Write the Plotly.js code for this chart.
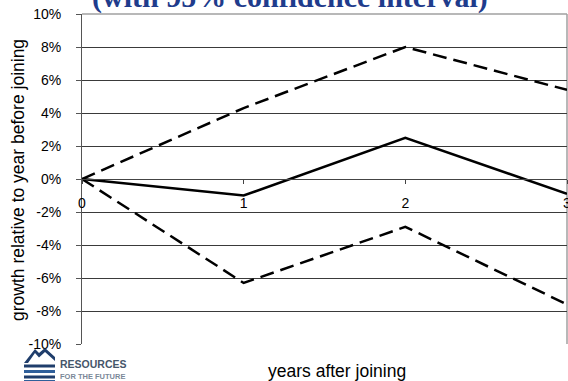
<!DOCTYPE html>
<html>
<head>
<meta charset="utf-8">
<script src="https://cdn.plot.ly/plotly-3.0.1.min.js"></script>
<style>
  html, body { margin: 0; padding: 0; background: #fff; }
  #chart { width: 568px; height: 381px; }
</style>
</head>
<body>
<div id="chart"></div>
<script>
// Years after joining and growth estimates (percent)
const years = [0, 1, 2, 3];
const estimate = [0, -1.0, 2.5, -0.9];
const upperBound = [0, 4.3, 8.0, 5.4];
const lowerBound = [0, -6.3, -2.9, -7.6];
const yTicks = [-10, -8, -6, -4, -2, 0, 2, 4, 6, 8, 10];
const yTickText = yTicks.map(v => v + '%');

// Figure geometry (pixels) for placing notes and the logo
const W = 568, H = 381;
const M = { l: 82, r: 1, t: 14, b: 37 };
const PW = W - M.l - M.r, PH = H - M.t - M.b;
const px = x => (x - M.l) / PW;
const py = y => (H - M.b - y) / PH;

const sans = 'Liberation Sans, Arial, sans-serif';

const traces = [
  { x: years, y: upperBound, mode: 'lines', name: 'upper 95%',
    line: { color: '#000', width: 2.5, dash: '14px,7px' }, hoverinfo: 'x+y' },
  { x: years, y: lowerBound, mode: 'lines', name: 'lower 95%',
    line: { color: '#000', width: 2.5, dash: '14px,7px' }, hoverinfo: 'x+y' },
  { x: years, y: estimate, mode: 'lines', name: 'estimate',
    line: { color: '#000', width: 2.5 }, hoverinfo: 'x+y' }
];

// RFF logo: mountain outline above a set of stripes
const navy = '#1f3d6b';
const logoShapes = [
  { type: 'path', xref: 'paper', yref: 'paper', layer: 'above',
    path: `M ${px(24)} ${py(363)} L ${px(35)} ${py(349)} L ${px(39)} ${py(353)} L ${px(45)} ${py(348)} L ${px(55)} ${py(357)}`
      + ` L ${px(55)} ${py(361)} L ${px(45)} ${py(352)} L ${px(39)} ${py(357.5)} L ${px(35)} ${py(353)} L ${px(28)} ${py(363)} Z`,
    fillcolor: navy, line: { width: 0 } },
  { type: 'rect', xref: 'paper', yref: 'paper', layer: 'above',
    x0: px(24), x1: px(55), y0: py(367.5), y1: py(364.5), fillcolor: navy, line: { width: 0 } },
  { type: 'rect', xref: 'paper', yref: 'paper', layer: 'above',
    x0: px(24), x1: px(55), y0: py(373), y1: py(370), fillcolor: '#2f5f9a', line: { width: 0 } },
  { type: 'rect', xref: 'paper', yref: 'paper', layer: 'above',
    x0: px(24), x1: px(55), y0: py(378.5), y1: py(375.5), fillcolor: navy, line: { width: 0 } },
  { type: 'rect', xref: 'paper', yref: 'paper', layer: 'above',
    x0: px(24), x1: px(55), y0: py(381), y1: py(380), fillcolor: '#2f5f9a', line: { width: 0 } }
];

const layout = {
  width: W, height: H,
  margin: M,
  paper_bgcolor: '#fff', plot_bgcolor: '#fff',
  showlegend: false,
  font: { family: sans, size: 14, color: '#000' },
  xaxis: {
    range: [0, 3], tickvals: years, ticktext: years.map(String),
    anchor: 'free', position: 0.5,
    showline: true, linecolor: '#444', linewidth: 1,
    ticks: 'outside', ticklen: 4, tickcolor: '#444',
    ticklabelstandoff: 7, ticklabeloverflow: 'allow',
    showgrid: false, zeroline: false,
    tickfont: { family: sans, size: 14, color: '#000' }
  },
  yaxis: {
    range: [-10, 10], tickvals: yTicks, ticktext: yTickText,
    showline: true, linecolor: '#555', linewidth: 1,
    ticks: 'outside', ticklen: 5, tickcolor: '#555',
    ticklabelstandoff: 12,
    showgrid: true, gridcolor: '#3a3a3a', gridwidth: 1,
    zeroline: false,
    tickfont: { family: sans, size: 14, color: '#000' }
  },
  shapes: [
    // light frame along the top and right of the plot area
    { type: 'line', xref: 'paper', yref: 'paper', x0: 0, x1: 1, y0: 1, y1: 1,
      line: { color: '#a0a0a0', width: 1.5 }, layer: 'above' },
    { type: 'line', xref: 'paper', yref: 'paper', x0: 1, x1: 1, y0: 0, y1: 1,
      line: { color: '#a0a0a0', width: 1.5 }, layer: 'below' }
  ].concat(logoShapes),
  annotations: [
    { text: '<b>(with 95% confidence interval)</b>', xref: 'paper', yref: 'paper',
      x: px(290), y: py(-2.5), xanchor: 'center', yanchor: 'middle', showarrow: false,
      font: { family: 'Liberation Serif, Times New Roman, serif', size: 30, color: '#1f3c8c' } },
    { text: 'growth relative to year before joining', xref: 'paper', yref: 'paper',
      x: px(18), y: py(180), xanchor: 'center', yanchor: 'middle', textangle: -90,
      showarrow: false, font: { family: sans, size: 17.5, color: '#000' } },
    { text: 'years after joining', xref: 'paper', yref: 'paper',
      x: px(337), y: py(371), xanchor: 'center', yanchor: 'middle',
      showarrow: false, font: { family: sans, size: 17.5, color: '#000' } },
    { text: '<b>RESOURCES</b>', xref: 'paper', yref: 'paper',
      x: px(58), y: py(364.5), xanchor: 'left', yanchor: 'middle',
      showarrow: false, font: { family: sans, size: 10.5, color: '#46566a' } },
    { text: '<b>FOR THE FUTURE</b>', xref: 'paper', yref: 'paper',
      x: px(58), y: py(376.5), xanchor: 'left', yanchor: 'middle',
      showarrow: false, font: { family: sans, size: 7.5, color: '#7a8898' } }
  ]
};

Plotly.newPlot('chart', traces, layout, { displayModeBar: false, staticPlot: true });
</script>
</body>
</html>
